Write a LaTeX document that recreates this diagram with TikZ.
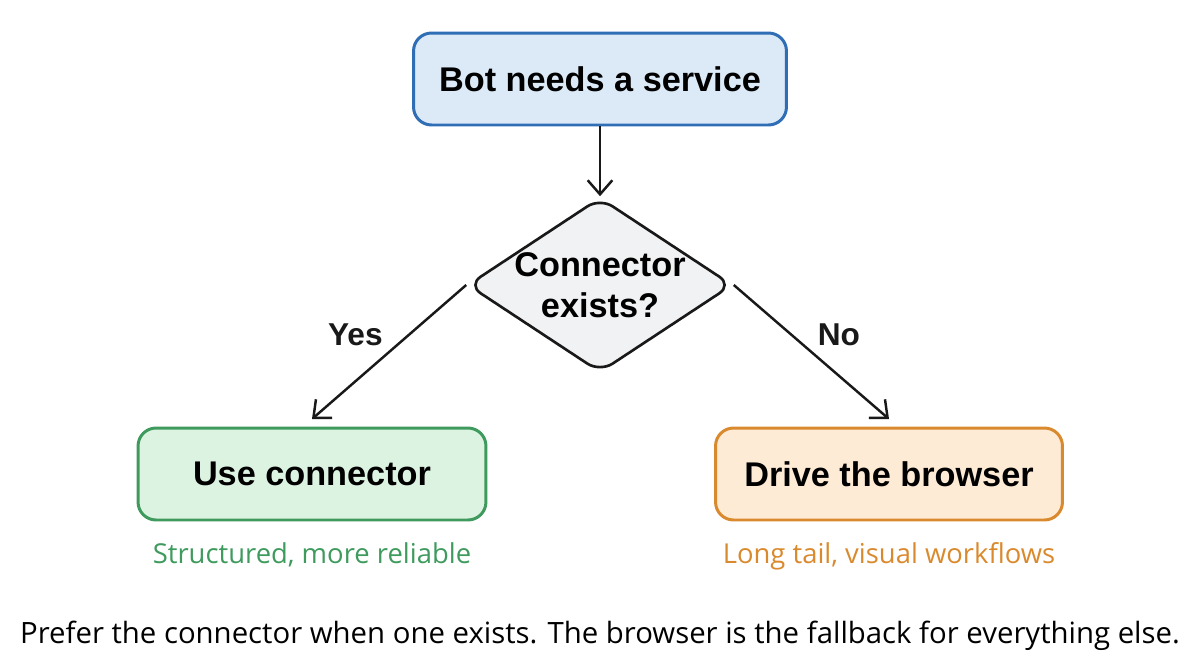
\documentclass[tikz,border=0pt]{standalone}
\usepackage{fontspec}
\setmainfont{Liberation Sans}
\newfontfamily\handfont{Open Sans}
\usetikzlibrary{shapes.geometric, arrows.meta, positioning}
\definecolor{needfill}{HTML}{DCEAF8}
\definecolor{needline}{HTML}{2F6DB5}
\definecolor{usefill}{HTML}{DDF3E2}
\definecolor{useline}{HTML}{3F9A5E}
\definecolor{drivefill}{HTML}{FDEBD5}
\definecolor{driveline}{HTML}{DA8A2E}
\definecolor{askfill}{HTML}{F1F2F4}

\begin{document}
\begin{tikzpicture}[
    x=0.02cm, y=-0.02cm,
    block/.style={rectangle, rounded corners=0.36cm, line width=1.7pt, minimum width=7cm, minimum height=1.84cm, align=center, font=\fontsize{19.5}{22}\selectfont\bfseries},
    decision/.style={diamond, draw=black!90, fill=askfill, line width=1.5pt, rounded corners=0.3cm, aspect=1.5, inner sep=-0.2cm, minimum width=5.3cm, minimum height=3.5cm, align=center, font=\fontsize{19.5}{23}\selectfont\bfseries},
    note/.style={font=\handfont\fontsize{15.6}{18}\selectfont},
    arrow/.style={-{Straight Barb[length=8pt, width=14pt]}, line width=1.4pt, black!90}
]
    \useasboundingbox (0,0) rectangle (1200,670);

    \node[block, draw=needline, fill=needfill, minimum width=7.46cm] (need) at (600,79) {Bot needs a service};
    \node[decision] (exists) at (600,285) {Connector\\exists?};
    \node[block, draw=useline, fill=usefill, minimum width=6.96cm] (use) at (312,474) {Use connector};
    \node[block, draw=driveline, fill=drivefill, minimum width=6.94cm] (drive) at (889,474) {Drive the browser};

    \node[note, text=useline, below=0.3cm of use] (usenote) {Structured, more reliable};
    \node[note, text=driveline, below=0.3cm of drive] (drivenote) {Long tail, visual workflows};

    \draw[arrow] (need) -- (exists.north);
    \draw[arrow] (exists.west) -- node[above left, font=\fontsize{18}{20}\selectfont\bfseries, inner sep=3pt] (yes) {Yes} ([yshift=0.15cm]use.north);
    \draw[arrow] (exists.east) -- node[above right, font=\fontsize{18}{20}\selectfont\bfseries, inner sep=3pt] (no) {No} ([yshift=0.15cm]drive.north);

    \node[font=\handfont\fontsize{16.7}{19}\selectfont] (moral) at (600,636) {Prefer the connector when one exists. The browser is the fallback for everything else.};
\end{tikzpicture}
\end{document}
